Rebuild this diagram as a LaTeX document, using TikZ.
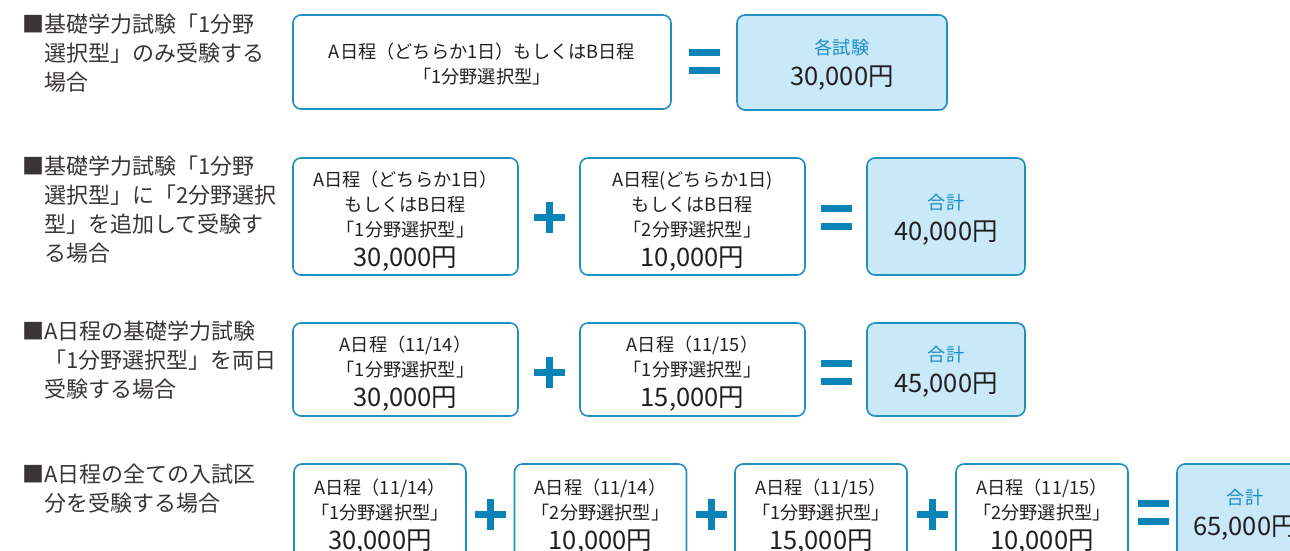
\documentclass[tikz,border=0pt]{standalone}
\usepackage{fontspec}
\setmainfont{Noto Sans CJK JP}
\definecolor{bord}{HTML}{1F8FC4}
\definecolor{symc}{HTML}{0A84B8}
\definecolor{resfill}{HTML}{C9E9F9}
\definecolor{bluetxt}{HTML}{1A8CC4}
\definecolor{txt}{HTML}{231F20}
\newcommand\bignum[1]{{\fontsize{25.5}{28}\selectfont #1}}
\newcommand\bluelbl[1]{{\color{bluetxt}#1}}
\newcommand\topst[1]{\rule{0pt}{#1}}
\tikzset{
  lbl/.style={anchor=north west, inner sep=0pt, align=left, text=txt!90, font=\fontsize{22}{29}\selectfont},
  box/.style={draw=bord, line width=1.6pt, rounded corners=8pt, fill=white, align=center, text=txt, inner sep=0pt, font=\fontsize{18.2}{25}\selectfont},
  resbox/.style={box, fill=resfill},
  plussym/.pic={\fill[symc] (-15.5,-3.5) rectangle (15.5,3.5); \fill[symc] (-3.5,-15.5) rectangle (3.5,15.5);},
  eqsym/.pic={\fill[symc] (-15.5,-12.5) rectangle (15.5,-5.5); \fill[symc] (-15.5,5.5) rectangle (15.5,12.5);}
}
\begin{document}
\begin{tikzpicture}[x=1pt,y=-1pt]
\useasboundingbox (0,0) rectangle (1290,551);
% left labels
\node[lbl] (l1) at (22,14) {■基礎学力試験「1分野\\\phantom{■}選択型」のみ受験する\\\phantom{■}場合};
\node[lbl] (l2) at (22,156) {■基礎学力試験「1分野\\\phantom{■}選択型」に「2分野選択\\\phantom{■}型」を追加して受験す\\\phantom{■}る場合};
\node[lbl] (l3) at (22,321) {■A日程の基礎学力試験\\\phantom{■}「1分野選択型」を両日\\\phantom{■}受験する場合};
\node[lbl] (l4) at (22,464) {■A日程の全ての入試区\\\phantom{■}分を受験する場合};
% row 1
\node[box, minimum width=378, minimum height=94] (r1a) at (482,62) {\topst{20pt}A日程（どちらか1日）もしくはB日程\\「1分野選択型」};
\pic at (704,62) {eqsym};
\node[resbox, minimum width=210, minimum height=95] (r1r) at (842,62.5) {\topst{20pt}\bluelbl{各試験}\\[6pt]\bignum{30,000円}};
% row 2
\node[box, minimum width=225, minimum height=117] (r2a) at (405.5,216.5) {\topst{24pt}A日程（どちらか1日）\\もしくはB日程\\「1分野選択型」\\[5pt]\bignum{30,000円}};
\pic at (549,217) {plussym};
\node[box, minimum width=225, minimum height=117] (r2b) at (692.5,216.5) {\topst{24pt}A日程(どちらか1日)\\もしくはB日程\\「2分野選択型」\\[5pt]\bignum{10,000円}};
\pic at (836,217) {eqsym};
\node[resbox, minimum width=158, minimum height=117] (r2r) at (946,216.5) {\topst{22pt}\bluelbl{合計}\\[6pt]\bignum{40,000円}};
% row 3
\node[box, minimum width=225, minimum height=93] (r3a) at (405.5,369.5) {\topst{24pt}A日程（11/14）\\「1分野選択型」\\[5pt]\bignum{30,000円}};
\pic at (549,372) {plussym};
\node[box, minimum width=225, minimum height=93] (r3b) at (692.5,369.5) {\topst{24pt}A日程（11/15）\\「1分野選択型」\\[5pt]\bignum{15,000円}};
\pic at (836,372) {eqsym};
\node[resbox, minimum width=158, minimum height=93] (r3r) at (946,369.5) {\topst{20pt}\bluelbl{合計}\\[6pt]\bignum{45,000円}};
% row 4
\node[box, minimum width=172, minimum height=96] (r4a) at (380,512) {\topst{24pt}A日程（11/14）\\「1分野選択型」\\[5pt]\bignum{30,000円}};
\pic at (490.5,514) {plussym};
\node[box, minimum width=172, minimum height=96] (r4b) at (600.5,512) {\topst{24pt}A日程（11/14）\\「2分野選択型」\\[5pt]\bignum{10,000円}};
\pic at (711.5,514) {plussym};
\node[box, minimum width=172, minimum height=96] (r4c) at (821,512) {\topst{24pt}A日程（11/15）\\「1分野選択型」\\[5pt]\bignum{15,000円}};
\pic at (932.5,514) {plussym};
\node[box, minimum width=172, minimum height=96] (r4d) at (1042,512) {\topst{24pt}A日程（11/15）\\「2分野選択型」\\[5pt]\bignum{10,000円}};
\pic at (1153,512) {eqsym};
\node[resbox, minimum width=136, minimum height=96] (r4r) at (1245,512) {\topst{20pt}\bluelbl{合計}\\[6pt]\bignum{65,000円}};
\end{tikzpicture}
\end{document}
